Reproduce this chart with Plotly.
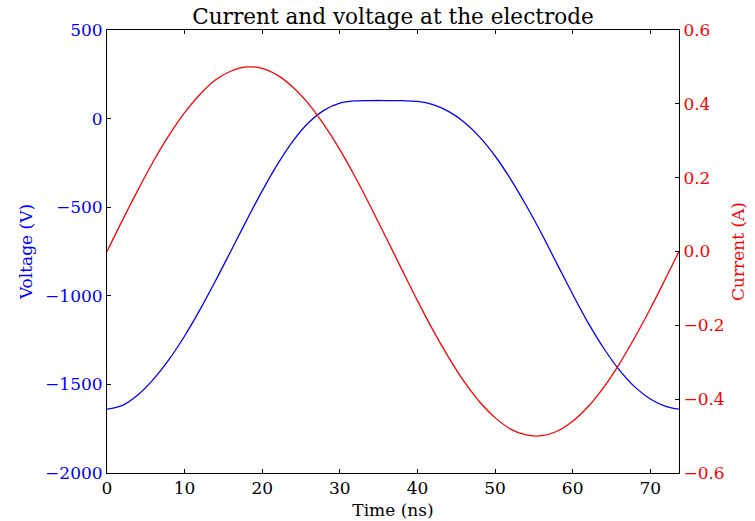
import plotly.graph_objects as go

# time samples (ns)
time_ns = [0, 2, 4, 6, 8, 10, 12, 14, 16, 18, 20, 22, 24, 26, 28, 30, 32, 34, 36,
           38, 40, 42, 44, 46, 48, 50, 52, 54, 56, 58, 60, 62, 64, 66, 68, 70, 72, 73.7]

# voltage at the electrode (V)
voltage_v = [-1640, -1618, -1558, -1470, -1359, -1227, -1077, -914, -744, -573,
             -408, -256, -124, -22, 48, 87, 100, 102, 102, 101, 97, 79, 41, -19,
             -103, -211, -341, -489, -650, -821, -991, -1153, -1296, -1418, -1514,
             -1582, -1624, -1640]

# current at the electrode (A)
current_a = [0.0, 0.085, 0.167, 0.245, 0.315, 0.376, 0.426, 0.465, 0.489, 0.500,
             0.496, 0.477, 0.444, 0.399, 0.342, 0.276, 0.201, 0.120, 0.036, -0.049,
             -0.133, -0.213, -0.286, -0.352, -0.407, -0.450, -0.481, -0.497, -0.499,
             -0.487, -0.460, -0.420, -0.368, -0.305, -0.233, -0.155, -0.072, 0.0]

x_ticks = [0, 10, 20, 30, 40, 50, 60, 70]
v_ticks = [-2000, -1500, -1000, -500, 0, 500]
i_ticks = [-0.6, -0.4, -0.2, 0.0, 0.2, 0.4, 0.6]

FONT = "DejaVu Serif"
BLUE = "#0000ff"
RED = "#ff0000"

fig = go.Figure()
fig.add_trace(go.Scatter(x=time_ns, y=voltage_v, mode="lines", yaxis="y",
                         line=dict(color=BLUE, width=1.3, shape="spline", smoothing=1.0),
                         showlegend=False))
fig.add_trace(go.Scatter(x=time_ns, y=current_a, mode="lines", yaxis="y2",
                         line=dict(color=RED, width=1.3, shape="spline", smoothing=1.0),
                         showlegend=False))

fig.update_layout(
    width=755, height=521,
    margin=dict(l=107, r=76, t=30, b=48, autoexpand=False),
    paper_bgcolor="white", plot_bgcolor="white",
    font=dict(family=FONT, size=17, color="black"),
    title=dict(text="Current and voltage at the electrode", x=0.5, xanchor="center",
               xref="paper", y=1, yref="paper", yanchor="bottom",
               pad=dict(b=6), font=dict(family=FONT, size=21.6, color="black")),
    xaxis=dict(range=[0, 73.7], tickvals=x_ticks, ticks="inside", ticklen=4,
               tickcolor="black", showline=True, linecolor="black", linewidth=1,
               mirror="ticks", showgrid=False, zeroline=False,
               title=dict(text="Time (ns)", standoff=6, font=dict(size=17)),
               tickfont=dict(size=17, color="black")),
    yaxis=dict(range=[-2000, 500], tickvals=v_ticks, ticks="inside", ticklen=4,
               tickcolor="black", showline=True, linecolor="black", linewidth=1,
               showgrid=False, zeroline=False,
               title=dict(text="Voltage (V)", standoff=8, font=dict(size=17, color=BLUE)),
               tickfont=dict(size=17, color=BLUE)),
    yaxis2=dict(range=[-0.6, 0.6], tickvals=i_ticks, tickformat=".1f", ticks="inside",
                ticklen=4, tickcolor="black", showline=True, linecolor="black",
                linewidth=1, showgrid=False, zeroline=False, overlaying="y", side="right",
                title=dict(text="Current (A)", standoff=8, font=dict(size=17, color=RED)),
                tickfont=dict(size=17, color=RED)),
)

fig.write_html("out.html")
